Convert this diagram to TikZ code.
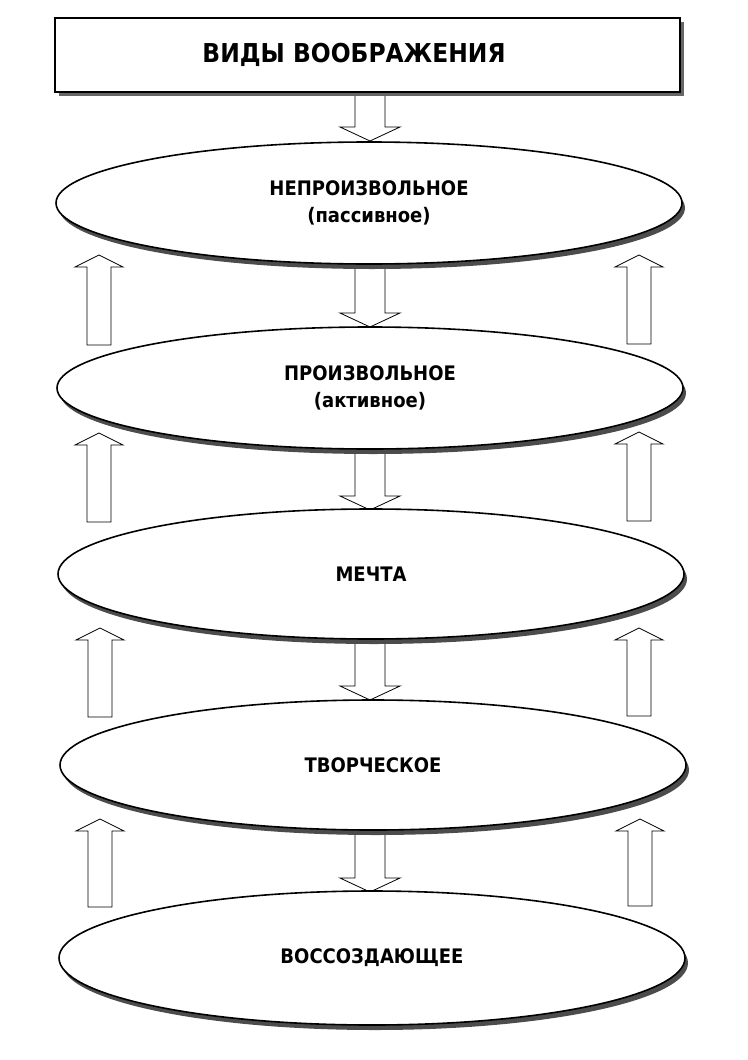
\documentclass[tikz,border=0pt]{standalone}
\usepackage{fontspec}
\newfontfamily\cf{DejaVu Sans Condensed}[BoldFont={DejaVu Sans Condensed Bold}]
\usetikzlibrary{calc,shapes.geometric,shadows}
\newcommand{\blkarrow}[5]{%
  \draw[blk] let \p1=(#1), \p2=(#2), \n1={sign(\y2-\y1)} in
    (\x1-#3,\y1) -- (\x1-#3,{\y2-\n1*#5}) -- (\x1-#4,{\y2-\n1*#5}) -- (\x2,\y2)
    -- (\x1+#4,{\y2-\n1*#5}) -- (\x1+#3,{\y2-\n1*#5}) -- (\x1+#3,\y1) -- cycle;}
\tikzset{
  ell/.style={ellipse, draw, line width=1.6pt, fill=white, inner sep=0pt,
    minimum width=626, drop shadow={shadow xshift=3pt, shadow yshift=-5pt, fill=black!70, opacity=1},
    font=\cf\bfseries\fontsize{20}{27}\selectfont, align=center},
  titlebox/.style={rectangle, draw, line width=1.3pt, fill=white, inner sep=0pt,
    minimum width=625, minimum height=74,
    drop shadow={shadow xshift=4pt, shadow yshift=-4pt, fill=black!60, opacity=1}},
  titletext/.style={font=\cf\bfseries\fontsize{26}{32}\selectfont, inner sep=0pt},
  blk/.style={draw, line width=0.8pt, fill=white},
}
\begin{document}
\begin{tikzpicture}[x=1pt,y=-1pt]
\useasboundingbox (0,0) rectangle (747,1060);
% connector coordinates
\coordinate (d1s) at (370,90);  \coordinate (d1t) at (370,141);
\coordinate (d2s) at (370,266); \coordinate (d2t) at (370,327);
\coordinate (d3s) at (370,449); \coordinate (d3t) at (370,510);
\coordinate (d4s) at (370,640); \coordinate (d4t) at (370,700);
\coordinate (d5s) at (370,831); \coordinate (d5t) at (370,892);
\coordinate (l1s) at (99,345); \coordinate (l1t) at (99,255);
\coordinate (r1s) at (639,344); \coordinate (r1t) at (639,255);
\coordinate (l2s) at (99,522); \coordinate (l2t) at (99,433);
\coordinate (r2s) at (639,521); \coordinate (r2t) at (639,432);
\coordinate (l3s) at (100,717); \coordinate (l3t) at (100,628);
\coordinate (r3s) at (639,716); \coordinate (r3t) at (639,628);
\coordinate (l4s) at (100,907); \coordinate (l4t) at (100,819);
\coordinate (r4s) at (640,906); \coordinate (r4t) at (640,819);
% down arrows
\foreach \a in {d1,d2,d3,d4,d5}{\blkarrow{\a s}{\a t}{15}{30}{14}}
% up arrows
\foreach \a in {l1,r1,l2,r2,l3,r3,l4,r4}{\blkarrow{\a s}{\a t}{12}{24}{12}}
% title
\node[titlebox] (title) at (367.5,55) {};
\node[titletext] (ttext) at (354,55) {ВИДЫ ВООБРАЖЕНИЯ};
% ellipses
\node[ell, minimum height=122] (e1) at (369,203) {НЕПРОИЗВОЛЬНОЕ\\(пассивное)};
\node[ell, minimum height=122] (e2) at (370,388) {ПРОИЗВОЛЬНОЕ\\(активное)};
\node[ell, minimum height=130] (e3) at (371,574) {МЕЧТА};
\node[ell, minimum height=130] (e4) at (373,765) {ТВОРЧЕСКОЕ};
\node[ell, minimum height=134] (e5) at (372,958) {ВОССОЗДАЮЩЕЕ};
\end{tikzpicture}
\end{document}
